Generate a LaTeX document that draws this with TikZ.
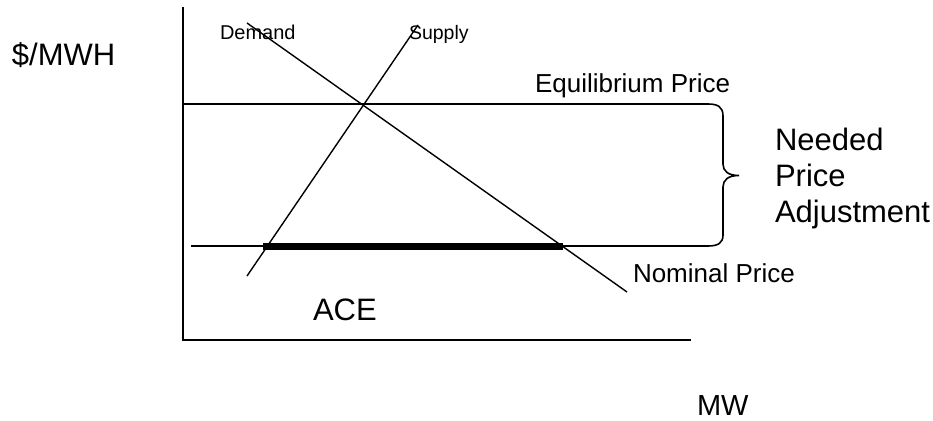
\documentclass[tikz,border=0pt]{standalone}
\usepackage{fontspec}
\setmainfont{Liberation Sans}
\begin{document}
\begin{tikzpicture}[x=1pt,y=-1pt,
  axis/.style={line width=2pt},
  curve/.style={line width=1.4pt},
  pline/.style={line width=1.6pt},
  bar/.style={line width=7pt},
  lbl/.style={anchor=base west,inner sep=0pt,outer sep=0pt}]
\useasboundingbox[fill=white] (0,0) rectangle (933,420);
% axes
\coordinate (ytop) at (183,7);
\coordinate (orig) at (183,340);
\coordinate (xend) at (691,340);
\draw[axis] (ytop) -- (orig) -- (xend);
% demand and supply
\coordinate (d1) at (247,23);
\coordinate (d2) at (627,292);
\coordinate (s1) at (418,25);
\coordinate (s2) at (247,276);
\draw[curve] (d1) -- (d2);
\draw[curve] (s1) -- (s2);
% price lines with brace
\coordinate (eq0) at (183,104);
\coordinate (nm0) at (191,246);
\draw[pline] (eq0) -- (708,104) .. controls (718,104) and (723,107) .. (723,116)
  -- (723,164) .. controls (723,171) and (728,175.5) .. (739,175.5)
  .. controls (728,175.5) and (723,180) .. (723,187)
  -- (723,235) .. controls (723,243) and (718,246) .. (708,246) -- (nm0);
% ACE bar
\coordinate (b1) at (263,246);
\coordinate (b2) at (563,246);
\draw[bar] (b1) -- (b2);
% labels
\node[lbl,font=\fontsize{31}{36}\selectfont] (mwh) at (12,65) {\$/MWH};
\node[lbl,font=\fontsize{20}{24}\selectfont] (dem) at (220,40) {Demand};
\node[lbl,font=\fontsize{19.5}{24}\selectfont] (sup) at (409,40) {Supply};
\node[lbl,font=\fontsize{26}{30}\selectfont] (eqp) at (535,92) {Equilibrium Price};
\node[lbl,font=\fontsize{26}{30}\selectfont] (nom) at (633,282) {Nominal Price};
\node[lbl,font=\fontsize{31}{36}\selectfont] (need) at (775,150) {Needed};
\node[lbl,font=\fontsize{31}{36}\selectfont] (price) at (775,186) {Price};
\node[lbl,font=\fontsize{31}{36}\selectfont] (adj) at (775,222) {Adjustment};
\node[lbl,font=\fontsize{31}{36}\selectfont] (ace) at (313,320) {ACE};
\node[lbl,font=\fontsize{29}{34}\selectfont] (mw) at (697,415) {MW};
\end{tikzpicture}
\end{document}
